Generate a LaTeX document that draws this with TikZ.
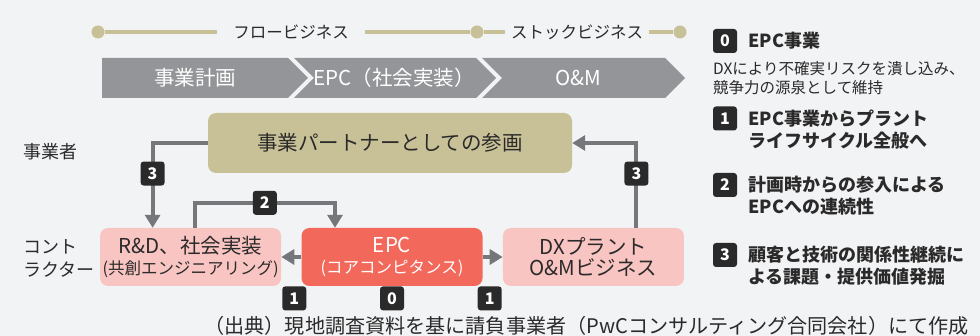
\documentclass[tikz,border=0pt]{standalone}
\usepackage{fontspec}
\setmainfont{Noto Sans CJK JP}
\usetikzlibrary{arrows.meta, positioning}

\definecolor{bg}{HTML}{F2F3F5}
\definecolor{ink}{HTML}{2B2A2A}
\definecolor{chev}{HTML}{939598}
\definecolor{olive}{HTML}{C8C197}
\definecolor{pinkbox}{HTML}{F9C5C2}
\definecolor{redbox}{HTML}{F2685B}
\definecolor{arrgray}{HTML}{76777A}

\begin{document}
\begin{tikzpicture}[
    x=1pt, y=-1pt,
    every node/.style={text=ink},
    box/.style={rounded corners=8pt, minimum width=181pt, minimum height=58pt, align=center, inner sep=0pt, font=\fontsize{20.5}{21}\selectfont},
    tag/.style={fill=ink, text=white, rounded corners=3pt, minimum width=24pt, minimum height=24pt, inner sep=0pt, font=\fontsize{16}{16}\selectfont\bfseries},
    arr/.style={draw=arrgray, line width=4pt, -{Triangle[width=15pt, length=13pt]}},
    tline/.style={draw=olive, line width=3.5pt},
    dot/.style={circle, fill=olive, minimum size=13pt, inner sep=0pt},
    chevtext/.style={text=white, font=\fontsize{20.5}{20.5}\selectfont},
    keytext/.style={align=left, inner sep=0pt, font=\fontsize{18}{22}\selectfont\bfseries},
  ]
  \fill[bg] (0,0) rectangle (980,336);
  \useasboundingbox (0,0) rectangle (980,336);

  % flow / stock timeline
  \node[dot] (d1) at (98,32) {};
  \node[font=\fontsize{16.5}{16.5}\selectfont, inner xsep=16pt] (flow) at (291,32) {フロービジネス};
  \node[dot] (d2) at (477,32) {};
  \node[font=\fontsize{16.5}{16.5}\selectfont, inner xsep=6pt] (stock) at (577,32) {ストックビジネス};
  \node[dot] (d3) at (680,32) {};
  \draw[tline] (d1) -- (flow) (flow) -- (d2) -- (stock) (stock) -- (d3);

  % phases
  \fill[chev] (102,58) -- (288,58) -- (308,78) -- (288,98) -- (102,98) -- cycle;
  \fill[chev] (294,58) -- (476,58) -- (496,78) -- (476,98) -- (294,98) -- (314,78) -- cycle;
  \fill[chev] (482,58) -- (665,58) -- (685,78) -- (665,98) -- (482,98) -- (502,78) -- cycle;
  \node[chevtext] (plan) at (195,78) {事業計画};
  \node[chevtext] (build) at (394,78) {EPC（社会実装）};
  \node[chevtext] (om) at (578,78) {O\&M};

  % boxes
  \node[box, fill=olive, minimum width=364pt, minimum height=60pt] (partner) at (390,143) {事業パートナーとしての参画};
  \node[box, fill=redbox, text=white] (epc) at (392,257) {EPC\\\fontsize{16.5}{21}\selectfont (コアコンピタンス)};
  \node[box, fill=pinkbox, left=20pt of epc] (rd) {R\&D、社会実装\\\fontsize{16.5}{21}\selectfont (共創エンジニアリング)};
  \node[box, fill=pinkbox, right=20pt of epc] (dx) {DXプラント\\O\&Mビジネス};

  \node[anchor=west, font=\fontsize{18}{18}\selectfont] (owner) at (20,152) {事業者};
  \node[anchor=west, align=left, font=\fontsize{18}{23}\selectfont] (contractor) at (20,258) {コント\\ラクター};

  % arrows
  \draw[arr] (partner.west) -| node[tag, pos=0.68] {3} ([xshift=-38pt]rd.north);
  \draw[arr] ([xshift=4pt]rd.north) -- ++(0,-25) -| node[tag, pos=0.25] {2} ([xshift=-57pt]epc.north);
  \draw[arr] (epc.west) -- (rd.east);
  \draw[arr] (epc.east) -- (dx.west);
  \draw[arr] ([xshift=43pt]dx.north) |- node[tag, pos=0.32] {3} (partner.east);

  \node[tag, anchor=north] (t1) at ([xshift=-7pt]epc.south west) {1};
  \node[tag, anchor=north] (t0) at (epc.south) {0};
  \node[tag, anchor=north] (t1b) at ([xshift=7pt]epc.south east) {1};

  % key
  \node[tag] (k0) at (725,41) {0};
  \node[keytext, right=11pt of k0] (k0head) {EPC事業};
  \node[anchor=west, align=left, inner sep=0pt, font=\fontsize{15.5}{19}\selectfont] (k0text) at (713,78.5) {DXにより不確実リスクを潰し込み、\\競争力の源泉として維持};
  \node[tag] (k1) at (725,118.5) {1};
  \node[keytext, right=11pt of k1, yshift=-11pt] (k1text) {EPC事業からプラント\\ライフサイクル全般へ};
  \node[tag] (k2) at (725,185) {2};
  \node[keytext, right=11pt of k2, yshift=-11pt] (k2text) {計画時からの参入による\\EPCへの連続性};
  \node[tag] (k3) at (725,255) {3};
  \node[keytext, right=11pt of k3, yshift=-11pt] (k3text) {顧客と技術の関係性継続に\\よる課題・提供価値発掘};

  \node[anchor=west, font=\fontsize{20.1}{20.1}\selectfont] (source) at (201,326) {（出典）現地調査資料を基に請負事業者（PwCコンサルティング合同会社）にて作成};
\end{tikzpicture}
\end{document}
